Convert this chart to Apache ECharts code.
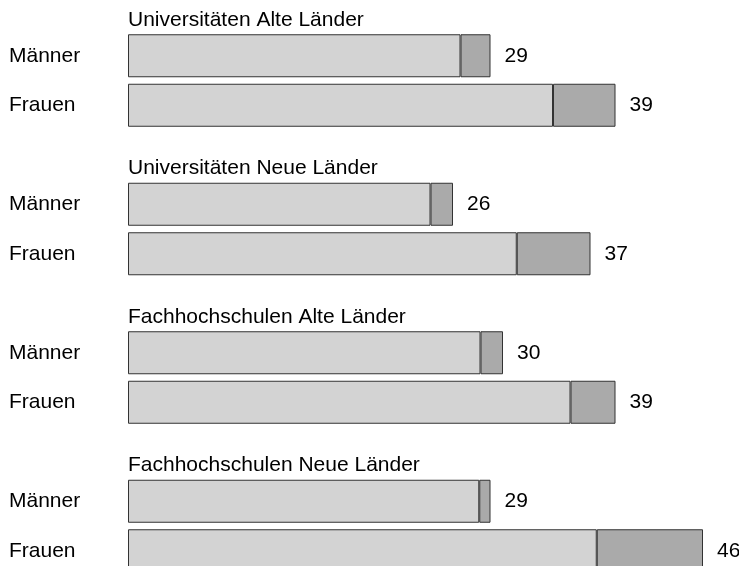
<!DOCTYPE html>
<html>
<head>
<meta charset="utf-8">
<script src="https://cdn.jsdelivr.net/npm/echarts@6/dist/echarts.min.js"></script>
<style>
  html, body { margin: 0; padding: 0; background: #fff; }
  #chart { width: 739px; height: 566px; }
</style>
</head>
<body>
<div id="chart"></div>
<script>
// Group titles (one per block of two rows)
const groupTitles = [
  'Universitäten Alte Länder',
  'Universitäten Neue Länder',
  'Fachhochschulen Alte Länder',
  'Fachhochschulen Neue Länder'
];
// Row labels inside each block
const rowLabels = ['Männer', 'Frauen'];

// Light segment per row (Männer, Frauen for each group in order)
const lightValues = [26.6, 34.0, 24.2, 31.1, 28.2, 35.4, 28.1, 37.5];
// Dark segment per row
const darkValues = [2.4, 5.0, 1.8, 5.9, 1.8, 3.6, 0.9, 8.5];
// Totals printed at the end of each bar
const totals = [29, 39, 26, 37, 30, 39, 29, 46];

// Build the category slots: two rows per group, a blank spacer slot between groups
const categories = [];
const rowIndexOfSlot = [];   // slot -> data row index, or -1 for spacer
const firstSlotOfGroup = [];
groupTitles.forEach((t, g) => {
  if (g > 0) { categories.push(''); rowIndexOfSlot.push(-1); }
  firstSlotOfGroup.push(categories.length);
  rowLabels.forEach((r, k) => {
    categories.push(r);
    rowIndexOfSlot.push(g * rowLabels.length + k);
  });
});

const lightData = rowIndexOfSlot.map(i => i < 0 ? '-' : lightValues[i]);
const darkData = rowIndexOfSlot.map(i => i < 0 ? '-' : darkValues[i]);

const FONT = '"Liberation Sans", Arial, Helvetica, sans-serif';
const FONT_SIZE = 21;
const GRID_HEIGHT = 544.5;   // last row runs past the bottom edge
const chart = echarts.init(document.getElementById('chart'), null, { renderer: 'canvas' });

const option = {
  animation: false,
  backgroundColor: '#ffffff',
  grid: {
    left: 128, top: 31, width: 600, height: GRID_HEIGHT,
    containLabel: false, outerBoundsMode: 'none'
  },
  xAxis: {
    type: 'value', min: 0, max: 48, show: false
  },
  yAxis: {
    type: 'category',
    inverse: true,
    data: categories,
    axisLine: { show: false },
    axisTick: { show: false },
    splitLine: { show: false },
    axisLabel: {
      align: 'left', margin: 119,
      fontFamily: FONT, fontSize: FONT_SIZE, color: '#000'
    }
  },
  series: [
    {
      type: 'bar', stack: 'total', barWidth: 43,
      data: lightData,
      itemStyle: { color: '#d3d3d3', borderColor: '#333', borderWidth: 1 }
    },
    {
      type: 'bar', stack: 'total', barWidth: 43,
      data: darkData,
      itemStyle: { color: '#aaaaaa', borderColor: '#333', borderWidth: 1 },
      label: {
        show: true, position: 'right', distance: 14,
        fontFamily: FONT, fontSize: FONT_SIZE, color: '#000',
        formatter: p => String(totals[rowIndexOfSlot[p.dataIndex]])
      }
    }
  ]
};
chart.setOption(option);

// Place each group title above its first bar, starting at the axis origin
const slotHeight = GRID_HEIGHT / categories.length;
const titleGraphics = groupTitles.map((t, g) => {
  const pt = chart.convertToPixel({ gridIndex: 0 }, [0, firstSlotOfGroup[g]]);
  return {
    type: 'text',
    x: pt[0],
    y: pt[1] - slotHeight * 0.72,
    style: {
      text: t, fontFamily: FONT, fontSize: FONT_SIZE, fill: '#000',
      textAlign: 'left', textVerticalAlign: 'middle'
    }
  };
});
chart.setOption({ graphic: titleGraphics });
</script>
</body>
</html>
